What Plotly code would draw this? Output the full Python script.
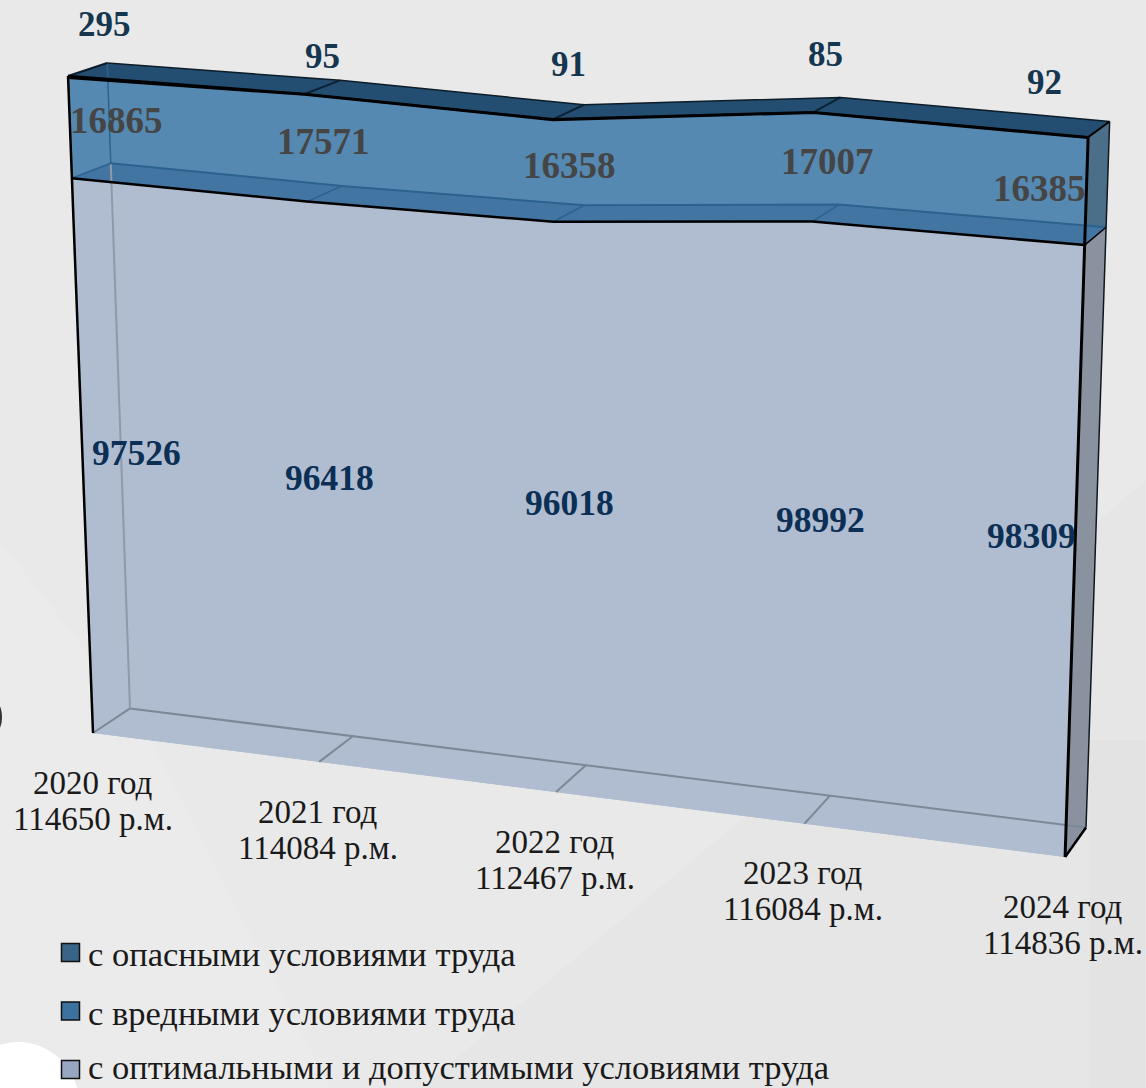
import plotly.graph_objects as go

years = ["2020 год", "2021 год", "2022 год", "2023 год", "2024 год"]
workplaces = ["114650 р.м.", "114084 р.м.", "112467 р.м.", "116084 р.м.", "114836 р.м."]
optimal = [97526, 96418, 96018, 98992, 98309]
harmful = [16865, 17571, 16358, 17007, 16385]
dangerous = [295, 95, 91, 85, 92]
legend_names = ["с опасными условиями труда", "с вредными условиями труда",
                "с оптимальными и допустимыми условиями труда"]

n = len(years)
s1 = list(optimal)
s2 = [a + b for a, b in zip(s1, harmful)]
s3 = [a + b for a, b in zip(s2, dangerous)]
zero = [0] * n

# pinhole camera of the 3D plot: origin and three vanishing points
O = (93.0, 733.0)
VPU, KU = (-9700.0, -516.0), -0.0903
VPD, KD = (2100.0, -600.0), 0.01878
VPV, KV = (623.0, 14676.0), -0.045 / 114686.0


def pr(i, d, v):
    u = i / (n - 1)
    a, b, c = u * KU, d * KD, v * KV
    w = 1 + a + b + c
    return ((O[0] + a * VPU[0] + b * VPD[0] + c * VPV[0]) / w,
            (O[1] + a * VPU[1] + b * VPD[1] + c * VPV[1]) / w)


fig = go.Figure()


def add(pts, fill=None, line=None, width=0):
    xs = [p[0] for p in pts]
    ys = [p[1] for p in pts]
    if fill:
        xs.append(xs[0]); ys.append(ys[0])
    fig.add_trace(go.Scatter(
        x=xs, y=ys, mode="lines", hoverinfo="skip", showlegend=False,
        fill="toself" if fill else None, fillcolor=fill,
        line=dict(color=line or "rgba(0,0,0,0)", width=width if line else 0)))


def edge(st, d):
    return [pr(i, d, st[i]) for i in range(n)]


def strip(lo, hi, d=0):
    return edge(hi, d) + edge(lo, d)[::-1]


def surface(st):
    return edge(st, 0) + edge(st, 1)[::-1]


def side(i, lo, hi):
    return [pr(i, 0, lo[i]), pr(i, 1, lo[i]), pr(i, 1, hi[i]), pr(i, 0, hi[i])]


C_OPT, C_HARM, C_STRIP, C_TOP = "#b0bdd0", "#5589b2", "#4375a3", "#234e71"
C_SIDE1, C_SIDE2 = "#8a92a0", "#4b6f88"
C_GREY, C_BLUE = "#7c8896", "#2b628e"
L = n - 1

# floor and faces, back to front
add(surface(zero), fill=C_OPT)
add(side(L, zero, s1), fill=C_SIDE1)
add(side(L, s1, s2), fill=C_SIDE2)
add(strip(zero, s1), fill=C_OPT)
add(strip(s1, s2), fill=C_HARM)
add(surface(s1), fill=C_STRIP)
add(surface(s3), fill=C_TOP)
add(side(L, s2, s3), fill=C_TOP)

# see-through back edges
add(edge(zero, 1), line=C_GREY, width=2)
for i in range(n):
    if i < L:
        add([pr(i, 0, 0), pr(i, 1, 0)], line=C_GREY, width=2)
add([pr(0, 1, 0), pr(0, 1, s1[0])], line="#8f99a8", width=2)
add([pr(0, 1, s1[0]), pr(0, 1, s3[0])], line=C_BLUE, width=1.5)
add(edge(s1, 1), line=C_BLUE, width=2)
for i in range(1, L):
    add([pr(i, 0, s1[i]), pr(i, 1, s1[i])], line=C_BLUE, width=1.5)
    add([pr(i, 0, s3[i]), pr(i, 1, s3[i])], line="#0c2233", width=2)
add([pr(0, 0, s1[0]), pr(0, 1, s1[0])], line=C_BLUE, width=1.5)

# black outline
add(edge(s3, 1), line="#0c1c28", width=1.5)
add([pr(0, 0, s3[0]), pr(0, 1, s3[0])], line="#0c1c28", width=2)
add([pr(L, 0, s3[L]), pr(L, 1, s3[L])], line="black", width=2)
add([pr(L, 0, s1[L]), pr(L, 1, s1[L])], line="black", width=1.5)
add([pr(L, 0, 0), pr(L, 1, 0)], line="black", width=2.5)
add([pr(L, 1, 0), pr(L, 1, s3[L])], line="#10181e", width=1.5)
add([pr(0, 0, 0), pr(0, 0, s3[0])], line="black", width=2.5)
add([pr(L, 0, 0), pr(L, 0, s3[L])], line="black", width=3)
add(edge(s1, 0), line="black", width=2.5)
add(edge(s2, 0), line="black", width=2.5)
add(edge(s3, 0), line="black", width=2.5)

SERIF = "Liberation Serif"
annotations = []


def label(x, y, text, size, color, bold=False, anchor="center"):
    annotations.append(dict(
        x=x, y=y, xref="x", yref="y", text=f"<b>{text}</b>" if bold else text,
        showarrow=False, xanchor=anchor, yanchor="middle",
        font=dict(family=SERIF, size=size, color=color)))


danger_pos = [(104, 24), (322, 56), (568, 64), (825, 54), (1044, 82)]
harm_pos = [(116, 120), (323, 141), (569, 165), (827, 161), (1039, 188)]
opt_pos = [(136, 453), (329, 478), (569, 503), (820, 520), (1031, 536)]
cat_pos = [(93, 783), (318, 812), (555, 842), (803, 873), (1063, 907)]
for i in range(n):
    label(*danger_pos[i], dangerous[i], 35, "#14364f", True)
    label(*harm_pos[i], harmful[i], 37, "#454545", True)
    label(*opt_pos[i], optimal[i], 35.5, "#0b2f55", True)
    label(cat_pos[i][0], cat_pos[i][1], years[i], 33, "#1a1a1a")
    label(cat_pos[i][0], cat_pos[i][1] + 36, workplaces[i], 33, "#1a1a1a")

shapes = [
    dict(type="path", xref="x", yref="y", path="M 0 540 L 140 720 L 330 1088 L 0 1088 Z",
         fillcolor="rgba(255,255,255,0.1)", line_width=0, layer="below"),
    dict(type="path", xref="x", yref="y", path="M 420 1088 L 1146 480 L 1146 1088 Z",
         fillcolor="rgba(0,0,0,0.012)", line_width=0, layer="below"),
    dict(type="rect", xref="x", yref="y", x0=1090, x1=1146, y0=740, y1=1088,
         fillcolor="rgba(0,0,0,0.01)", line_width=0, layer="below"),
    dict(type="circle", xref="x", yref="y", x0=-43, x1=79, y0=1042, y1=1164,
         fillcolor="white", line_width=0, layer="below"),
    dict(type="circle", xref="x", yref="y", x0=-6, x1=2, y0=705, y1=729,
         fillcolor="#333333", line_width=0, layer="below"),
]
legend_cols = ["#386488", "#3b729f", "#97a7c1"]
legend_y = [953.5, 1012.5, 1067]
box_y = [953.5, 1012, 1070.5]
for name, col, y, by in zip(legend_names, legend_cols, legend_y, box_y):
    label(85.5, y, name, 34.5, "#1a1a1a", anchor="left")
    shapes.append(dict(type="rect", xref="x", yref="y", x0=61.5, x1=79.5, y0=by - 10, y1=by + 8,
                       fillcolor=col, line=dict(color="#111", width=1.5)))

fig.update_layout(
    width=1146, height=1088, margin=dict(l=0, r=0, t=0, b=0),
    paper_bgcolor="#e9e9e9", plot_bgcolor="rgba(0,0,0,0)",
    xaxis=dict(range=[0, 1146], visible=False, fixedrange=True),
    yaxis=dict(range=[1088, 0], visible=False, fixedrange=True),
    annotations=annotations, shapes=shapes, showlegend=False,
)
fig.write_html("out.html", config={"displayModeBar": False},
               post_script="document.body.style.margin='0';document.documentElement.style.overflow='hidden';")
